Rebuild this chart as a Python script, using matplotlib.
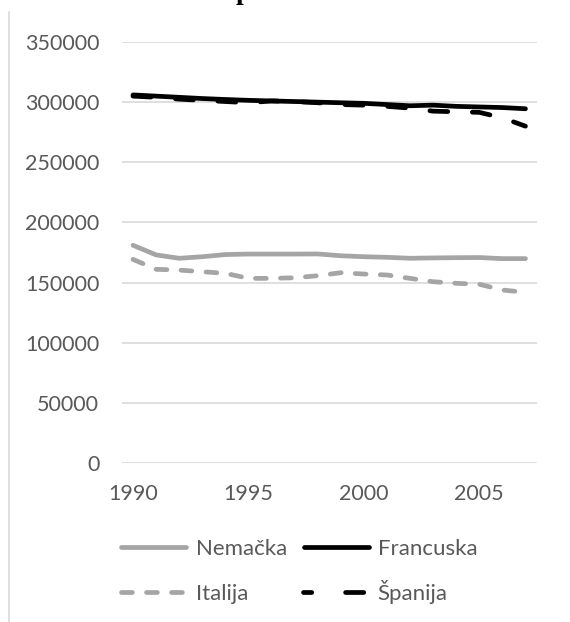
import matplotlib.pyplot as plt
from matplotlib.lines import Line2D

godine = list(range(1990, 2008))

nemacka = [181000, 173000, 170200, 171500, 173300, 173700, 173700, 173700, 173800, 172300,
           171500, 171000, 170200, 170500, 170700, 170800, 169900, 169900]
francuska = [306000, 305000, 304000, 303000, 302200, 301500, 301000, 300500, 300000, 299500,
             299000, 298000, 297000, 297500, 296500, 296000, 295500, 294500]
italija = [169300, 161000, 160400, 159000, 157700, 153500, 153500, 154000, 155700, 158200,
           157100, 156300, 153500, 150700, 149400, 148600, 143800, 141900]
spanija = [305000, 304000, 302500, 301500, 300500, 299500, 301000, 300500, 299500, 298000,
           297500, 296500, 295000, 292500, 292000, 291500, 287000, 280000]

siva = "#a5a5a5"
crna = "#000000"
tekst = "#595959"
font = "Lato"
lw = 3.4

W, H = 570, 622
fig = plt.figure(figsize=(W / 100, H / 100), dpi=100)
ax = fig.add_axes([121.5 / W, 1 - 463 / H, 415.5 / W, 421 / H])

stil_nem = dict(color=siva, lw=lw, solid_capstyle="round")
stil_fra = dict(color=crna, lw=lw, solid_capstyle="round")
stil_ita = dict(color=siva, lw=lw, dashes=(2.3, 3.0), dash_capstyle="round")
stil_spa = dict(color=crna, lw=lw, dashes=(3.8, 5.2), dash_capstyle="round")

ax.plot(godine, nemacka, **stil_nem)
ax.plot(godine, francuska, **stil_fra)
ax.plot(godine, italija, **stil_ita)
ax.plot(godine, spanija, **stil_spa)

ax.set_xlim(1989.5, 2007.5)
ax.set_ylim(0, 350000)
ax.set_yticks(range(0, 350001, 50000))
ax.set_xticks([1990, 1995, 2000, 2005])
ax.yaxis.grid(True, color="#d9d9d9", lw=1.2)
ax.set_axisbelow(True)
for s in ax.spines.values():
    s.set_visible(False)
ax.tick_params(axis="both", length=0, labelcolor=tekst, labelsize=15.5)
ax.tick_params(axis="y", pad=16)
ax.tick_params(axis="x", pad=15)
for lbl in ax.get_xticklabels() + ax.get_yticklabels():
    lbl.set_fontfamily(font)


# legenda rucno, da bi redovi bili poravnati (Š je visi od ostalih slova)
def px(x, y):
    return x / W, 1 - y / H


def stavka(x0, y, stil, naziv):
    (a, b), (c, _) = px(x0, y), px(x0 + 65, y)
    fig.add_artist(Line2D([a, c], [b, b], transform=fig.transFigure, **stil))
    tx, ty = px(x0 + 75, y + 8)
    fig.text(tx, ty, naziv, family=font, fontsize=16, color=tekst, va="baseline")


stavka(120.5, 547, stil_nem, "Nemačka")
stavka(303.5, 547, stil_fra, "Francuska")
stavka(120.5, 592, stil_ita, "Italija")
stavka(302.5, 592, dict(color=crna, lw=lw, linestyle=(2.1, (3.85, 7.16)), dash_capstyle="round"),
       "Španija")

# ostatak naslova iznad ivice slike
fig.text(243 / W, 1 + 1 / H, "p", family="Liberation Serif", fontweight="bold",
         fontsize=20, ha="center", va="baseline")

# leva ivica okvira grafikona
fig.add_artist(Line2D([8.5 / W, 8.5 / W], [0, 1 - 12 / H], color="#d9d9d9", lw=1.2))

fig.savefig("out.png", dpi=100)
